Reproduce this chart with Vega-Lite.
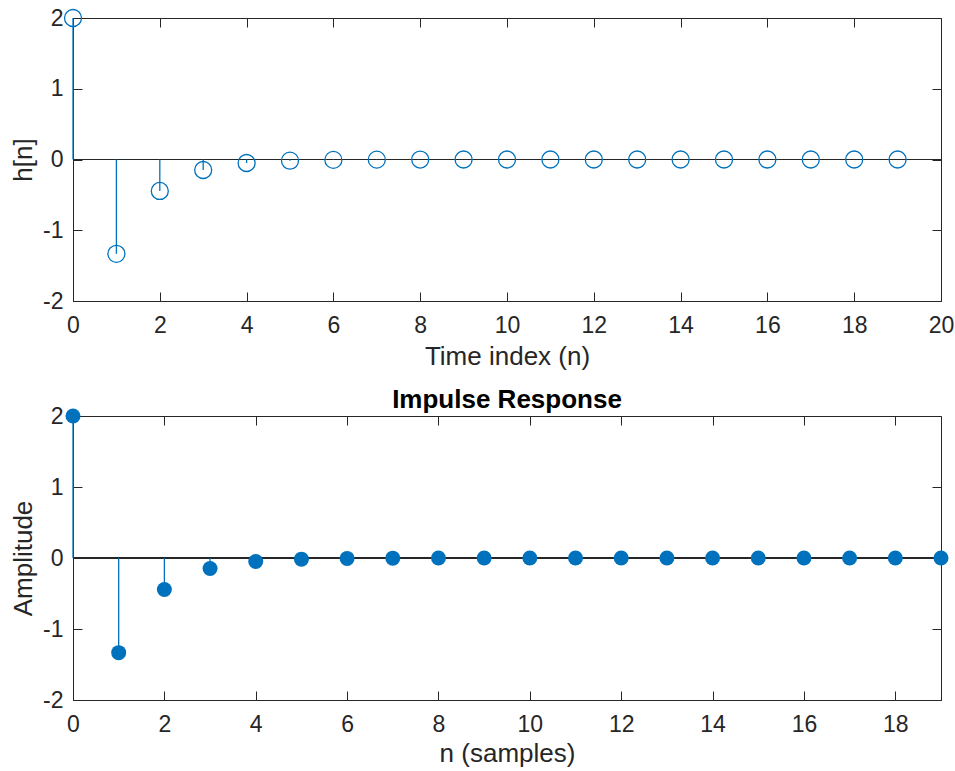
{
  "$schema": "https://vega.github.io/schema/vega-lite/v6.json",
  "autosize": {"type": "pad"},
  "padding": {"left": 10, "top": 6, "right": 0, "bottom": 0},
  "background": "white",
  "bounds": "flush",
  "spacing": 115,
  "data": {
    "values": [
      {"n": 0, "h": 2.0},
      {"n": 1, "h": -1.3333},
      {"n": 2, "h": -0.4444},
      {"n": 3, "h": -0.1481},
      {"n": 4, "h": -0.0494},
      {"n": 5, "h": -0.0165},
      {"n": 6, "h": -0.0055},
      {"n": 7, "h": -0.0018},
      {"n": 8, "h": -0.0006},
      {"n": 9, "h": -0.0002},
      {"n": 10, "h": -0.0001},
      {"n": 11, "h": 0.0},
      {"n": 12, "h": 0.0},
      {"n": 13, "h": 0.0},
      {"n": 14, "h": 0.0},
      {"n": 15, "h": 0.0},
      {"n": 16, "h": 0.0},
      {"n": 17, "h": 0.0},
      {"n": 18, "h": 0.0},
      {"n": 19, "h": 0.0}
    ]
  },
  "config": {
    "font": "Liberation Sans",
    "view": {"stroke": "#262626", "strokeWidth": 1},
    "axis": {
      "grid": false,
      "domainColor": "#262626",
      "tickColor": "#262626",
      "labelColor": "#262626",
      "titleColor": "#262626",
      "labelFontSize": 23,
      "titleFontSize": 26,
      "titleFontWeight": "normal",
      "tickSize": -9,
      "tickWidth": 1,
      "domainWidth": 1,
      "labelExpr": "datum.value + ''"
    }
  },
  "vconcat": [
    {
      "width": 868,
      "height": 283,
      "layer": [
        {
          "mark": {"type": "rule", "color": "#262626", "strokeWidth": 1},
          "encoding": {
            "y": {"datum": 0, "type": "quantitative", "scale": {"domain": [-2, 2]}, "axis": null}
          }
        },
        {
          "mark": {"type": "rule", "color": "#0072BD", "strokeWidth": 1.3},
          "encoding": {
            "x": {"field": "n", "type": "quantitative", "scale": {"domain": [0, 20], "nice": false},
              "axis": {"orient": "bottom", "title": "Time index (n)", "values": [0,2,4,6,8,10,12,14,16,18,20], "labelPadding": 22, "titlePadding": 6, "labelFlush": false}},
            "y": {"field": "h", "type": "quantitative", "scale": {"domain": [-2, 2], "nice": false},
              "axis": {"orient": "left", "title": "h[n]", "values": [-2,-1,0,1,2], "labelPadding": 19, "titlePadding": 6}},
            "y2": {"datum": 0}
          }
        },
        {
          "mark": {"type": "point", "shape": "circle", "filled": false, "color": "#0072BD", "strokeWidth": 1.3, "size": 289, "opacity": 1},
          "encoding": {
            "x": {"field": "n", "type": "quantitative",
              "axis": {"orient": "top", "title": null, "labels": false, "domain": false, "values": [0,2,4,6,8,10,12,14,16,18,20]}},
            "y": {"field": "h", "type": "quantitative",
              "axis": {"orient": "right", "title": null, "labels": false, "domain": false, "values": [-2,-1,0,1,2]}}
          }
        }
      ],
      "resolve": {"axis": {"x": "independent", "y": "independent"}}
    },
    {
      "width": 868,
      "height": 284,
      "title": {"text": "Impulse Response", "fontSize": 26, "fontWeight": "bold", "color": "#000000", "offset": -8, "frame": "group"},
      "layer": [
        {
          "mark": {"type": "rule", "color": "#262626", "strokeWidth": 1},
          "encoding": {
            "y": {"datum": 0, "type": "quantitative", "scale": {"domain": [-2, 2]}, "axis": null}
          }
        },
        {
          "mark": {"type": "rule", "color": "#0072BD", "strokeWidth": 1.3},
          "encoding": {
            "x": {"field": "n", "type": "quantitative", "scale": {"domain": [0, 19], "nice": false},
              "axis": {"orient": "bottom", "title": "n (samples)", "values": [0,2,4,6,8,10,12,14,16,18], "labelPadding": 22, "titlePadding": 4, "labelFlush": false}},
            "y": {"field": "h", "type": "quantitative", "scale": {"domain": [-2, 2], "nice": false},
              "axis": {"orient": "left", "title": "Amplitude", "values": [-2,-1,0,1,2], "labelPadding": 19, "titlePadding": 6}},
            "y2": {"datum": 0}
          }
        },
        {
          "mark": {"type": "point", "shape": "circle", "filled": true, "color": "#0072BD", "size": 225, "opacity": 1},
          "encoding": {
            "x": {"field": "n", "type": "quantitative",
              "axis": {"orient": "top", "title": null, "labels": false, "domain": false, "values": [0,2,4,6,8,10,12,14,16,18]}},
            "y": {"field": "h", "type": "quantitative",
              "axis": {"orient": "right", "title": null, "labels": false, "domain": false, "values": [-2,-1,0,1,2]}}
          }
        }
      ],
      "resolve": {"axis": {"x": "independent", "y": "independent"}}
    }
  ]
}
